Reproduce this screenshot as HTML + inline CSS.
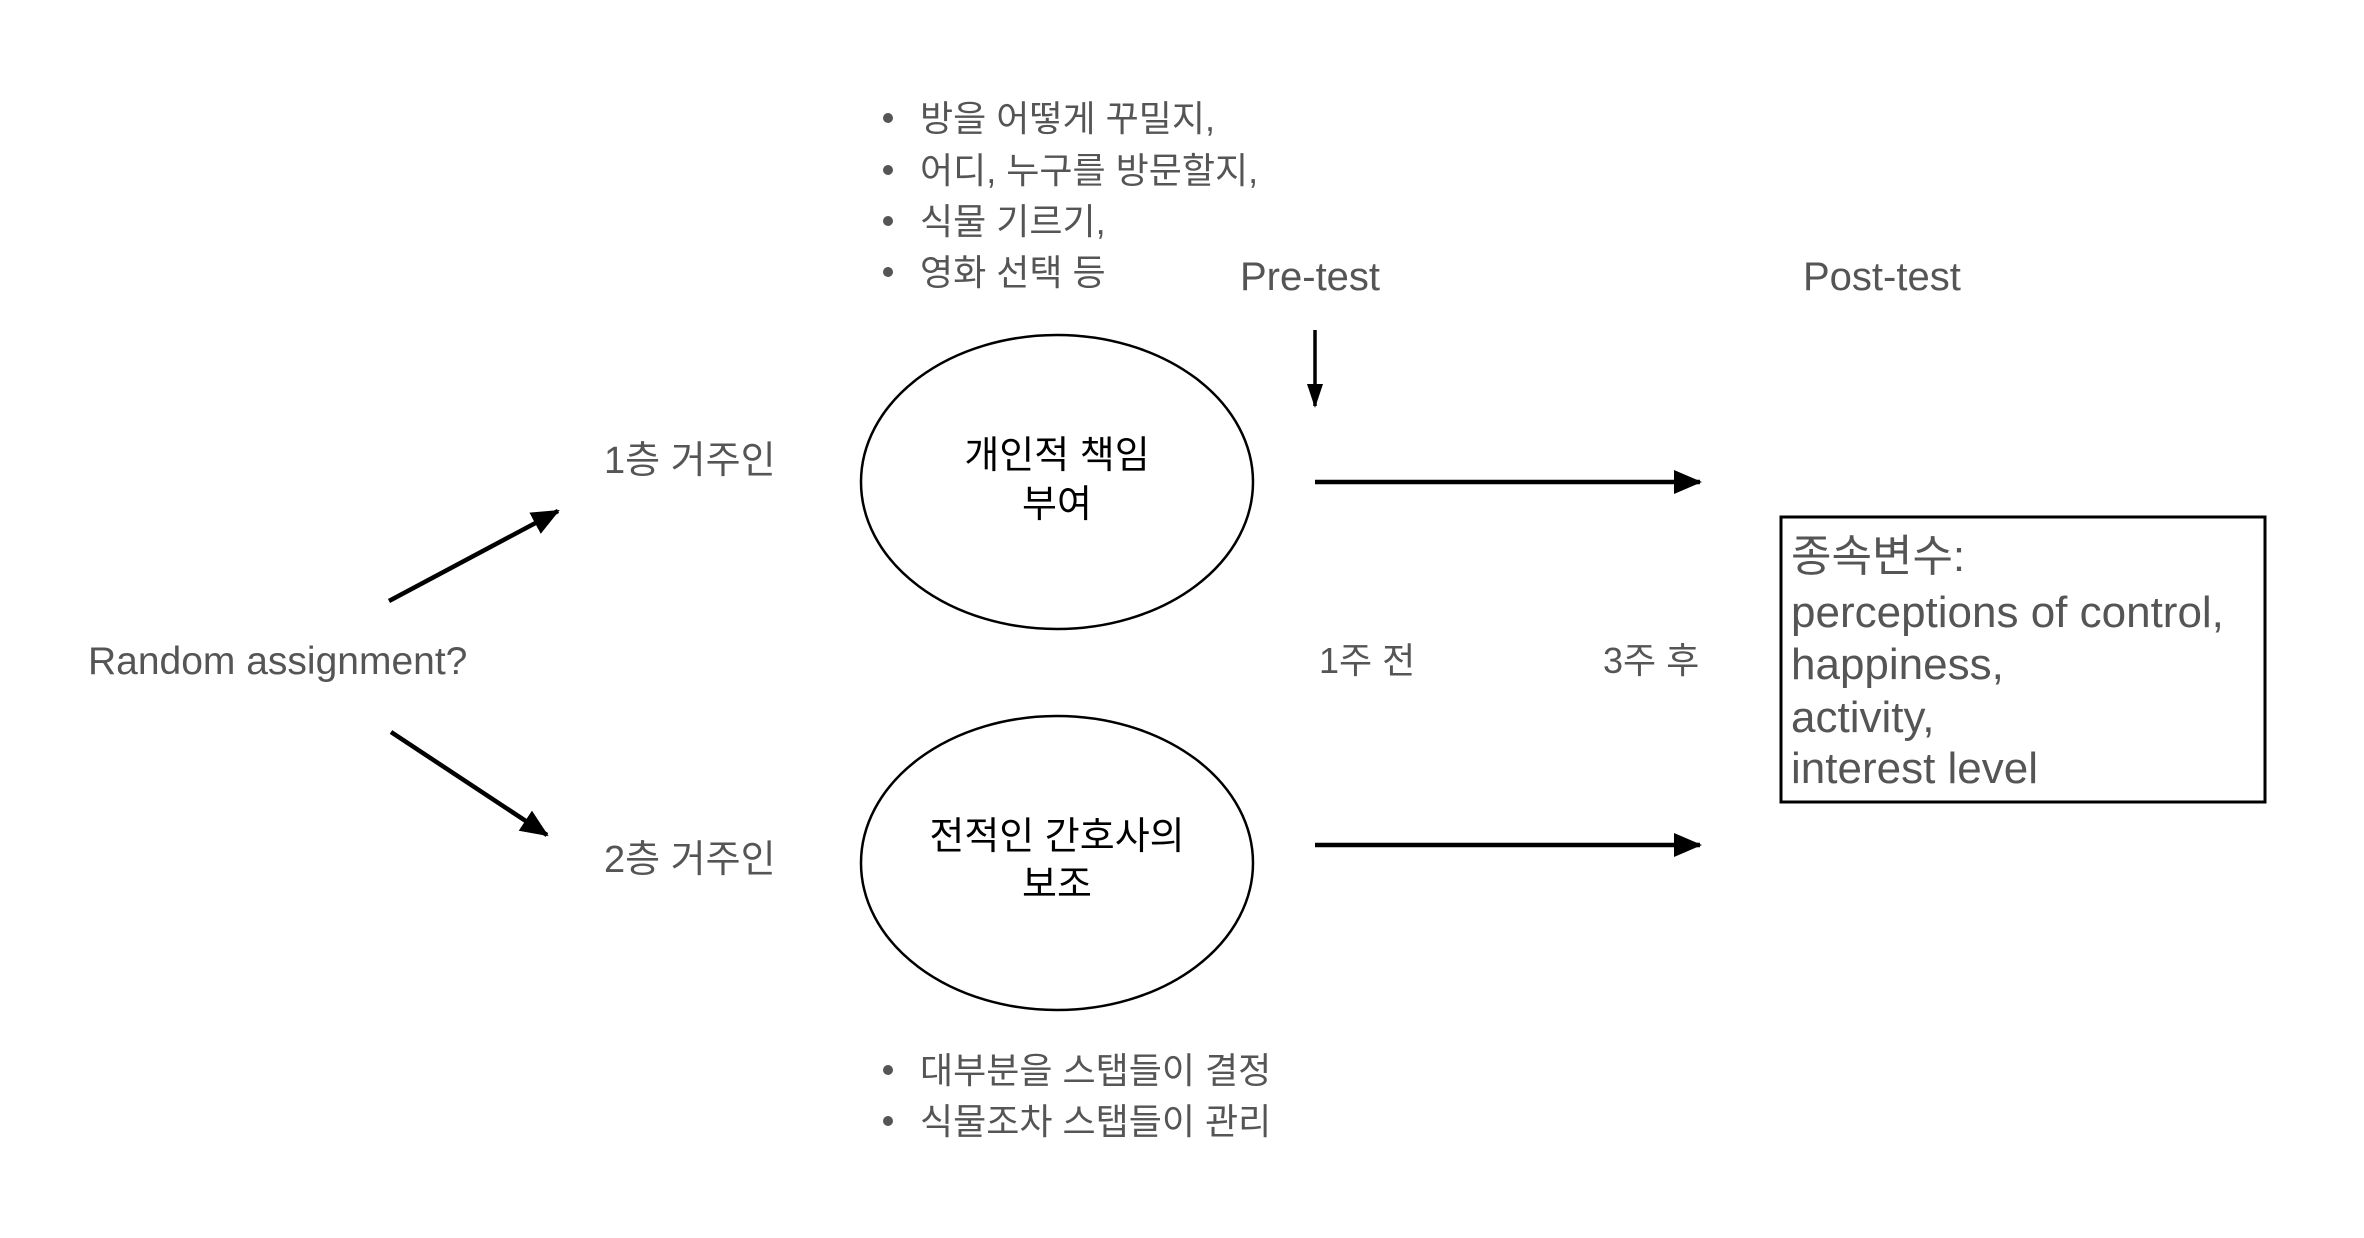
<!DOCTYPE html>
<html><head><meta charset="utf-8"><style>
html,body{margin:0;padding:0;background:#fff;}
svg{display:block;}
text{font-family:"Liberation Sans","Noto Sans CJK KR",sans-serif;}
.g{fill:#555;font-size:38px;}
.b{fill:#555;font-size:36px;}
.k{fill:#000;font-size:38px;}
</style></head><body>
<svg width="2364" height="1238" viewBox="0 0 2364 1238" xmlns="http://www.w3.org/2000/svg">
<defs>
<marker id="ah" markerWidth="30" markerHeight="30" refX="26" refY="15" orient="auto" markerUnits="userSpaceOnUse">
<path d="M0,3 L28,15 L0,27 z" fill="#000"/></marker>
<marker id="ah2" markerWidth="24" markerHeight="20" refX="22" refY="10" orient="auto" markerUnits="userSpaceOnUse">
<path d="M0,2 L24,10 L0,18 z" fill="#000"/></marker>
</defs>
<g class="b">
<circle cx="888" cy="118" r="5" fill="#555"/><text x="920" y="131">방을 어떻게 꾸밀지,</text>
<circle cx="888" cy="170" r="5" fill="#555"/><text x="920" y="183">어디, 누구를 방문할지,</text>
<circle cx="888" cy="221" r="5" fill="#555"/><text x="920" y="234">식물 기르기,</text>
<circle cx="888" cy="272" r="5" fill="#555"/><text x="920" y="285">영화 선택 등</text>
<circle cx="888" cy="1070" r="5" fill="#555"/><text x="920" y="1083">대부분을 스탭들이 결정</text>
<circle cx="888" cy="1121" r="5" fill="#555"/><text x="920" y="1134">식물조차 스탭들이 관리</text>
</g>
<text class="g" x="1240" y="290" style="font-size:40px">Pre-test</text>
<text class="g" x="1803" y="290" style="font-size:40px">Post-test</text>
<line x1="1315" y1="330" x2="1315" y2="406" stroke="#000" stroke-width="3.5" marker-end="url(#ah2)"/>
<line x1="1315" y1="482" x2="1700" y2="482" stroke="#000" stroke-width="4.5" marker-end="url(#ah)"/>
<line x1="1315" y1="845" x2="1700" y2="845" stroke="#000" stroke-width="4.5" marker-end="url(#ah)"/>
<text class="b" x="1319" y="673">1주 전</text>
<text class="b" x="1603" y="673">3주 후</text>
<rect x="1781" y="517" width="484" height="285" fill="none" stroke="#000" stroke-width="3"/>
<g class="g" style="font-size:44px">
<text x="1791" y="571">종속변수:</text>
<text x="1791" y="627">perceptions of control,</text>
<text x="1791" y="679">happiness,</text>
<text x="1791" y="732">activity,</text>
<text x="1791" y="783">interest level</text>
</g>
<ellipse cx="1057" cy="482" rx="196" ry="147" fill="none" stroke="#000" stroke-width="2.5"/>
<ellipse cx="1057" cy="863" rx="196" ry="147" fill="none" stroke="#000" stroke-width="2.5"/>
<g class="k" text-anchor="middle">
<text x="1057" y="468">개인적 책임</text>
<text x="1057" y="517">부여</text>
<text x="1057" y="849">전적인 간호사의</text>
<text x="1057" y="897">보조</text>
</g>
<text class="b" x="604" y="473" style="font-size:38px">1층 거주인</text>
<text class="b" x="604" y="872" style="font-size:38px">2층 거주인</text>
<text class="g" x="88" y="674" style="font-size:39px">Random assignment?</text>
<line x1="389" y1="601" x2="558" y2="511" stroke="#000" stroke-width="4.5" marker-end="url(#ah)"/>
<line x1="391" y1="732" x2="547" y2="835" stroke="#000" stroke-width="4.5" marker-end="url(#ah)"/>
</svg>
</body></html>
